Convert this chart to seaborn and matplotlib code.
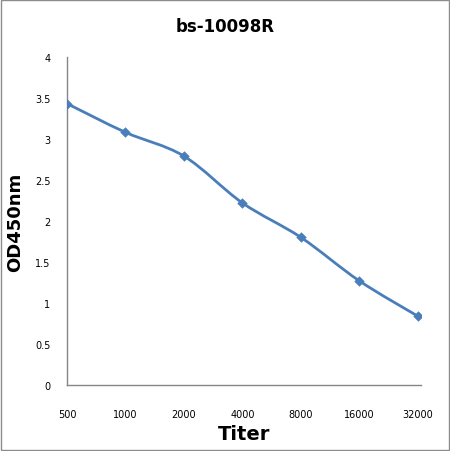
import numpy as np
import matplotlib
matplotlib.use('Agg')
import matplotlib.pyplot as plt
import seaborn as sns
from matplotlib.path import Path
from matplotlib.patches import PathPatch, Rectangle

# data
titer = ['500', '1000', '2000', '4000', '8000', '16000', '32000']
od450 = [3.43, 3.08, 2.79, 2.22, 1.80, 1.27, 0.84]
yticks = [0, 0.5, 1, 1.5, 2, 2.5, 3, 3.5, 4]

sns.set_style('white')
plt.rcParams['font.family'] = ['DejaVu Sans']
plt.rcParams['text.color'] = 'black'
plt.rcParams['axes.labelcolor'] = 'black'

line_color = '#4a7ebb'
axis_color = '#868686'

fig = plt.figure(figsize=(4.5, 4.52), dpi=100)
ax = fig.add_axes([0.149, 0.146, 0.787, 0.726])

xs = np.arange(len(titer))
ys = np.array(od450)

# smoothed line (Excel-like): cubic bezier segments through the data points
verts = [(xs[0], ys[0])]
codes = [Path.MOVETO]
n = len(xs)
for i in range(n - 1):
    p0 = np.array([xs[max(i - 1, 0)], ys[max(i - 1, 0)]])
    p1 = np.array([xs[i], ys[i]])
    p2 = np.array([xs[i + 1], ys[i + 1]])
    p3 = np.array([xs[min(i + 2, n - 1)], ys[min(i + 2, n - 1)]])
    c1 = p1 + (p2 - p0) / 6
    c2 = p2 - (p3 - p1) / 6
    verts += [tuple(c1), tuple(c2), tuple(p2)]
    codes += [Path.CURVE4] * 3
ax.add_patch(PathPatch(Path(verts, codes), fill=False, edgecolor=line_color,
                       lw=2.0, capstyle='round', joinstyle='round', zorder=3))

sns.scatterplot(x=xs, y=ys, marker='D', s=24, color=line_color,
                edgecolor=line_color, ax=ax, zorder=4)

ax.set_xlim(0, 6.06)
ax.set_ylim(0, 4)
ax.set_xticks(xs)
ax.set_xticklabels(titer)
ax.set_yticks(yticks)
ax.set_yticklabels([f'{v:g}' for v in yticks])
ax.tick_params(axis='both', length=0, labelsize=7, colors='black')
ax.tick_params(axis='x', pad=17)
ax.tick_params(axis='y', pad=12)

for side in ['top', 'right']:
    ax.spines[side].set_visible(False)
for side in ['left', 'bottom']:
    ax.spines[side].set_color(axis_color)
    ax.spines[side].set_linewidth(1.0)

ax.set_xlabel('Titer', fontsize=14, fontweight='bold', labelpad=4, color='black')
ax.set_ylabel('OD450nm', fontsize=13, fontweight='bold', labelpad=8, color='black')
fig.text(0.5, 0.94, 'bs-10098R', ha='center', va='center',
         fontsize=12, fontweight='bold', color='black')

# outer chart border
fig.patches.append(Rectangle((0.003, 0.003), 0.994, 0.994, transform=fig.transFigure,
                             fill=False, edgecolor='#8c8c8c', lw=1.0))

fig.savefig('out.png', dpi=100)
